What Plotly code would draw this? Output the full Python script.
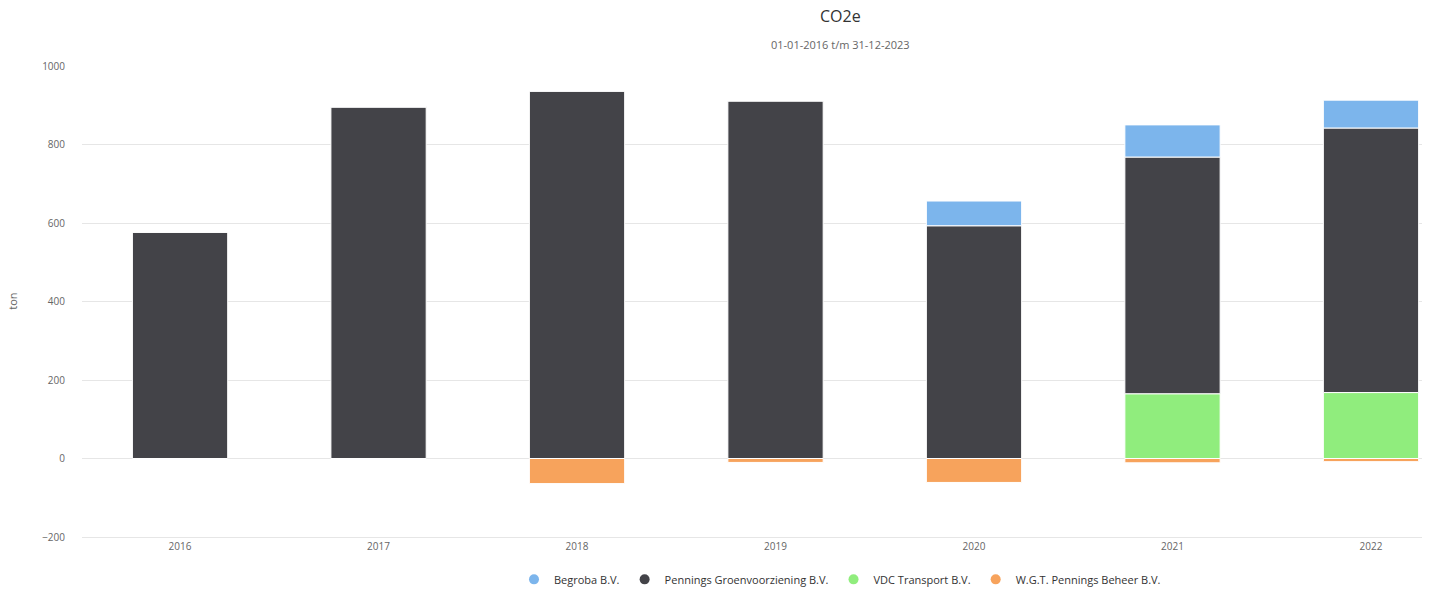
import plotly.graph_objects as go

years = ["2016", "2017", "2018", "2019", "2020", "2021", "2022"]
begroba = [0, 0, 0, 0, 63, 82, 71]
pennings = [577, 896, 936, 911, 593, 603, 674]
vdc = [0, 0, 0, 0, 0, 165, 168]
wgt = [0, 0, -64, -10, -61, -11, -8]

names = ["Begroba B.V.", "Pennings Groenvoorziening B.V.", "VDC Transport B.V.", "W.G.T. Pennings Beheer B.V."]
colors = ["#7cb5ec", "#434348", "#90ed7d", "#f7a35c"]
series = [begroba, pennings, vdc, wgt]

fig = go.Figure()
# stacking order: last series at the bottom (Highcharts style)
for i in [2, 1, 0, 3]:
    fig.add_trace(go.Bar(
        x=years, y=series[i], name=names[i],
        marker=dict(color=colors[i], line=dict(color="white", width=1)),
        width=0.48, showlegend=False,
        hovertemplate="%{x}<br>" + names[i] + ": %{y}<extra></extra>",
    ))
for i in range(4):
    fig.add_trace(go.Scatter(
        x=[None], y=[None], mode="markers", name=names[i],
        marker=dict(color=colors[i], size=10, symbol="circle"),
        showlegend=True, legendrank=i + 1,
    ))

fig.update_layout(
    width=1429, height=590,
    barmode="relative",
    plot_bgcolor="white", paper_bgcolor="white",
    margin=dict(l=82, r=7, t=66, b=53, autoexpand=False),
    font=dict(family="Open Sans, sans-serif", color="#666666", size=10),
    showlegend=True,
    legend=dict(orientation="h", x=(840 - 82) / 1340, xanchor="center",
                y=(537.6 - 580) / 471.6, yanchor="middle",
                font=dict(size=11, color="#333333"),
                traceorder="normal"),
)
fig.add_annotation(text="CO2e", xref="paper", yref="paper",
                   x=(840 - 82) / 1340, y=(537.6 - 16) / 471.6, yanchor="middle",
                   showarrow=False, font=dict(size=16, color="#333333"))
fig.add_annotation(text="01-01-2016 t/m 31-12-2023", xref="paper", yref="paper",
                   x=(840 - 82) / 1340, y=(537.6 - 44) / 471.6, yanchor="middle",
                   showarrow=False, font=dict(size=11, color="#666666"))
fig.add_annotation(text="ton", xref="paper", yref="paper",
                   x=(13 - 82) / 1340, y=(537.6 - 302) / 471.6, textangle=-90,
                   xanchor="center", yanchor="middle",
                   showarrow=False, font=dict(size=11, color="#666666"))

fig.update_xaxes(range=[-0.494, 6.257], showgrid=False, showline=True,
                 linecolor="#e6e6e6", linewidth=1, ticks="", tickfont=dict(size=10, color="#666666"))
fig.update_yaxes(range=[-200, 1000], dtick=200, gridcolor="#e6e6e6", zeroline=True,
                 zerolinecolor="#e6e6e6", zerolinewidth=1, ticks="outside", tickcolor="white",
                 ticklen=14, tickfont=dict(size=10, color="#666666"), showline=False)

fig.write_html("out.html", config={"displayModeBar": False},
               post_script="document.body.style.margin='0';document.body.style.overflow='hidden';")
